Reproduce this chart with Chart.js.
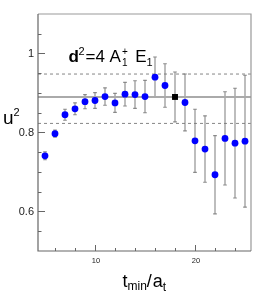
<!DOCTYPE html>
<html>
<head>
<meta charset="utf-8">
<script src="https://cdn.jsdelivr.net/npm/chart.js@4.4.1/dist/chart.umd.min.js"></script>
<style>
  body { margin: 0; background: #fff; }
  canvas { display: block; }
</style>
</head>
<body>
<canvas id="fit-plot" width="266" height="297"></canvas>
<script>
// t_min values and fitted u^2 with errors
const tmin = [5, 6, 7, 8, 9, 10, 11, 12, 13, 14, 15, 16, 17, 18, 19, 20, 21, 22, 23, 24, 25];
const u2 = [0.741, 0.797, 0.845, 0.860, 0.878, 0.881, 0.891, 0.875, 0.897, 0.896, 0.891,
            0.940, 0.919, 0.890, 0.876, 0.779, 0.758, 0.693, 0.785, 0.773, 0.778];
const u2err = [0.010, 0.009, 0.014, 0.015, 0.018, 0.020, 0.022, 0.024, 0.030, 0.035, 0.041,
               0.051, 0.055, 0.063, 0.072, 0.080, 0.084, 0.099, 0.118, 0.139, 0.167];
const chosenTmin = 18;
const fitValue = 0.890;
const fitBand = [0.823, 0.948];

const xTicks = [10, 20];
const yTicks = [0.6, 0.8, 1];

const xMin = 4.3, xMax = 25.6;

let points = [], chosen = [];
tmin.forEach((t, i) => {
  let p = { x: t, y: u2[i], err: u2err[i] };
  if (t === chosenTmin) chosen.push(p); else points.push(p);
});

const hline = (v) => [{ x: xMin, y: v }, { x: xMax, y: v }];

const sans = '"Liberation Sans", Arial, sans-serif';

function drawRich(ctx, x, y, parts) {
  ctx.textBaseline = 'alphabetic';
  ctx.textAlign = 'left';
  parts.forEach(p => {
    ctx.font = p.font;
    ctx.fillStyle = p.color || '#000';
    ctx.fillText(p.t, x + (p.dx || 0), y + (p.dy || 0));
    if (!p.stay) x += ctx.measureText(p.t).width + (p.dx || 0) + (p.gap || 0);
  });
}

const frame = {
  id: 'frame',
  beforeDatasetsDraw(chart) {
    const ctx = chart.ctx;
    const xs = chart.scales.x, ys = chart.scales.y;
    // error bars
    ctx.save();
    ctx.strokeStyle = '#888';
    ctx.lineWidth = 1.1;
    chart.data.datasets.forEach(ds => {
      if (!ds.errorBars) return;
      ds.data.forEach(p => {
        const px = xs.getPixelForValue(p.x);
        const top = ys.getPixelForValue(p.y + p.err);
        const bot = ys.getPixelForValue(p.y - p.err);
        ctx.beginPath();
        ctx.moveTo(px, top); ctx.lineTo(px, bot);
        ctx.moveTo(px - 1.8, top); ctx.lineTo(px + 1.8, top);
        ctx.moveTo(px - 1.8, bot); ctx.lineTo(px + 1.8, bot);
        ctx.stroke();
      });
    });
    ctx.restore();
  },
  afterDraw(chart) {
    const ctx = chart.ctx;
    const a = chart.chartArea;
    const xs = chart.scales.x, ys = chart.scales.y;
    ctx.save();
    // top and right border
    ctx.strokeStyle = '#999';
    ctx.lineWidth = 1.2;
    ctx.beginPath();
    ctx.moveTo(a.left, a.top); ctx.lineTo(a.right, a.top); ctx.lineTo(a.right, a.bottom);
    ctx.stroke();
    // left and bottom axes
    ctx.strokeStyle = '#666';
    ctx.beginPath();
    ctx.moveTo(a.left, a.top); ctx.lineTo(a.left, a.bottom); ctx.lineTo(a.right, a.bottom);
    ctx.stroke();

    // y ticks
    ctx.lineWidth = 1;
    for (let v = 0.55; v < 1.1; v += 0.05) {
      const py = Math.round(ys.getPixelForValue(v)) + 0.5;
      const major = yTicks.some(t => Math.abs(t - v) < 1e-6);
      ctx.beginPath();
      ctx.moveTo(a.left, py); ctx.lineTo(a.left + (major ? 7 : 3.5), py);
      ctx.stroke();
    }
    // x ticks
    for (let t = 6; t <= 24; t += 2) {
      const px = Math.round(xs.getPixelForValue(t)) + 0.5;
      const major = xTicks.includes(t);
      ctx.beginPath();
      ctx.moveTo(px, a.bottom); ctx.lineTo(px, a.bottom - (major ? 6 : 3));
      ctx.stroke();
    }

    // tick labels
    ctx.fillStyle = '#222';
    ctx.font = '11px ' + sans;
    ctx.textAlign = 'right';
    ctx.textBaseline = 'middle';
    yTicks.forEach(v => ctx.fillText(String(v), a.left - 4, ys.getPixelForValue(v)));
    ctx.font = '7.5px ' + sans;
    ctx.textAlign = 'center';
    ctx.textBaseline = 'top';
    xTicks.forEach(t => ctx.fillText(String(t), xs.getPixelForValue(t) + 1, a.bottom + 6));

    // axis titles
    drawRich(ctx, 3, 124, [
      { t: 'u', font: '19px ' + sans },
      { t: '2', font: '11px ' + sans, dy: -8 }
    ]);
    drawRich(ctx, 122.5, 287, [
      { t: 't', font: '18px ' + sans },
      { t: 'min', font: '12px ' + sans, dy: 3 },
      { t: '/', font: '18px ' + sans, gap: 1 },
      { t: 'a', font: '18px ' + sans },
      { t: 't', font: '12px ' + sans, dy: 4 }
    ]);

    // label
    drawRich(ctx, 68.5, 62, [
      { t: 'd', font: 'bold 17px ' + sans },
      { t: '2', font: '11px ' + sans, dy: -7, dx: -0.5, gap: 1 },
      { t: '=4 A', font: '17px ' + sans },
      { t: '+', font: '10px ' + sans, dy: -7, dx: 1, stay: true },
      { t: '1', font: '10px ' + sans, dy: 4, dx: 1, gap: 3 },
      { t: ' E', font: '17px ' + sans },
      { t: '1', font: '11px ' + sans, dy: 4 }
    ]);
    ctx.restore();
  }
};

new Chart(document.getElementById('fit-plot'), {
  type: 'scatter',
  data: {
    datasets: [
      {
        label: 'points',
        data: points,
        errorBars: true,
        backgroundColor: '#0000ff',
        borderWidth: 0,
        pointRadius: 3.4,
        order: 1
      },
      {
        label: 'chosen',
        data: chosen,
        errorBars: true,
        backgroundColor: '#000',
        borderWidth: 0,
        pointStyle: 'rect',
        pointRadius: 4.2,
        order: 0
      },
      {
        type: 'line',
        label: 'fit',
        data: hline(fitValue),
        borderColor: '#aaa',
        borderWidth: 2,
        pointRadius: 0,
        order: 3
      },
      {
        type: 'line',
        label: 'fit low',
        data: hline(fitBand[0]),
        borderColor: '#777',
        borderWidth: 0.9,
        borderDash: [3, 3],
        pointRadius: 0,
        order: 3
      },
      {
        type: 'line',
        label: 'fit high',
        data: hline(fitBand[1]),
        borderColor: '#777',
        borderWidth: 0.9,
        borderDash: [3, 3],
        pointRadius: 0,
        order: 3
      }
    ]
  },
  options: {
    responsive: false,
    animation: false,
    layout: { padding: { left: 38, right: 15, top: 14, bottom: 46 } },
    plugins: { legend: { display: false }, tooltip: { enabled: false } },
    scales: {
      x: { type: 'linear', min: xMin, max: xMax, display: false },
      y: { min: 0.5, max: 1.1, display: false }
    }
  },
  plugins: [frame]
});
</script>
</body>
</html>
